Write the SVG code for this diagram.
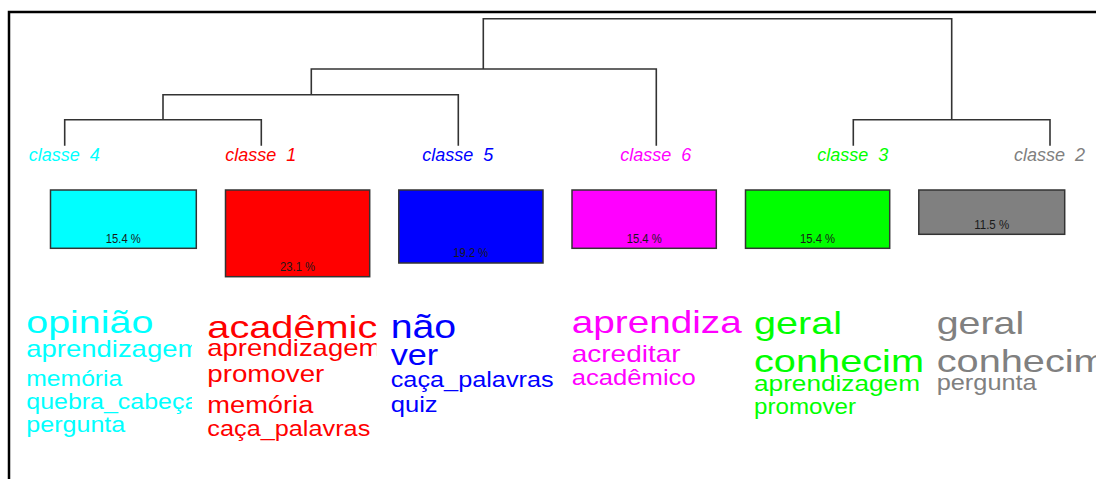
<svg xmlns="http://www.w3.org/2000/svg" width="1096" height="479" viewBox="0 0 1096 479">
<style>
.frame{fill:none;stroke:#000;stroke-width:2.5}
.dend{fill:none;stroke:#333;stroke-width:1.6}
.lbl{font-family:"Liberation Sans",Arial,sans-serif;font-style:italic;font-size:18px;text-anchor:middle;word-spacing:5px}
.box{stroke:#333;stroke-width:1.5}
.pct{font-family:"Liberation Sans",Arial,sans-serif;font-size:12px;text-anchor:middle;fill:#1a1a1a}
.w{font-family:"Liberation Sans",Arial,sans-serif}
.c4{fill:#00FFFF}.c1{fill:#FF0000}.c5{fill:#0000FF}.c6{fill:#FF00FF}.c3{fill:#00FF00}.c2{fill:#808080}
</style>
<defs>
<clipPath id="clip4" clipPathUnits="userSpaceOnUse"><rect x="20" y="290" width="172" height="160"/></clipPath>
<clipPath id="clip1" clipPathUnits="userSpaceOnUse"><rect x="200" y="290" width="176.5" height="160"/></clipPath>
</defs>
<rect width="1096" height="479" fill="#fff"/>
<path class="frame" d="M9,479 V12 H1096"/>
<g id="connectors">
<path class="dend" d="M64.7,145.7 V119.7 H261.3 V145.7"/>
<path class="dend" d="M163,119.7 V94.7 H458.3 V145.7"/>
<path class="dend" d="M311.3,94.7 V69 H656.3 V145.7"/>
<path class="dend" d="M853.3,145.7 V119.7 H1050 V145.7"/>
<path class="dend" d="M483.3,69 V18.7 H951.7 V119.7"/>
</g>
<g id="classe-4">
<text class="lbl c4" x="64.2" y="160.7">classe 4</text>
<rect class="box c4" x="50.5" y="190" width="145.8" height="58.3"/>
<text class="pct" x="123.3" y="242.8" textLength="35" lengthAdjust="spacingAndGlyphs">15.4 %</text>
<g clip-path="url(#clip4)">
<text class="w c4" x="26.3" y="332.5" font-size="32" textLength="127" lengthAdjust="spacingAndGlyphs">opinião</text>
<text class="w c4" x="26.3" y="356.5" font-size="24" textLength="174" lengthAdjust="spacingAndGlyphs">aprendizagem</text>
<text class="w c4" x="26.3" y="385.5" font-size="21.5" textLength="96" lengthAdjust="spacingAndGlyphs">memória</text>
<text class="w c4" x="26.3" y="408.5" font-size="21.5" textLength="172" lengthAdjust="spacingAndGlyphs">quebra_cabeça</text>
<text class="w c4" x="26.3" y="432.3" font-size="21.5" textLength="99" lengthAdjust="spacingAndGlyphs">pergunta</text>
</g>
</g>
<g id="classe-1">
<text class="lbl c1" x="260.8" y="160.7">classe 1</text>
<rect class="box c1" x="225.5" y="190" width="144.2" height="86.7"/>
<text class="pct" x="297.5" y="271" textLength="35" lengthAdjust="spacingAndGlyphs">23.1 %</text>
<g clip-path="url(#clip1)">
<text class="w c1" x="207.3" y="337.5" font-size="32" textLength="170" lengthAdjust="spacingAndGlyphs">acadêmic</text>
<text class="w c1" x="207.3" y="356" font-size="24" textLength="174" lengthAdjust="spacingAndGlyphs">aprendizagem</text>
<text class="w c1" x="207.3" y="382" font-size="24" textLength="117" lengthAdjust="spacingAndGlyphs">promover</text>
<text class="w c1" x="207.3" y="413.3" font-size="23" textLength="106" lengthAdjust="spacingAndGlyphs">memória</text>
<text class="w c1" x="207.3" y="436" font-size="22" textLength="163" lengthAdjust="spacingAndGlyphs">caça_palavras</text>
</g>
</g>
<g id="classe-5">
<text class="lbl c5" x="457.8" y="160.7">classe 5</text>
<rect class="box c5" x="398.8" y="190" width="144.2" height="73"/>
<text class="pct" x="470.8" y="257.3" textLength="35" lengthAdjust="spacingAndGlyphs">19.2 %</text>
<text class="w c5" x="390.7" y="337.7" font-size="33" textLength="65.5" lengthAdjust="spacingAndGlyphs">não</text>
<text class="w c5" x="390.7" y="365" font-size="29" textLength="47.5" lengthAdjust="spacingAndGlyphs">ver</text>
<text class="w c5" x="390.7" y="387.3" font-size="22" textLength="163" lengthAdjust="spacingAndGlyphs">caça_palavras</text>
<text class="w c5" x="390.7" y="411.7" font-size="22" textLength="47" lengthAdjust="spacingAndGlyphs">quiz</text>
</g>
<g id="classe-6">
<text class="lbl c6" x="655.8" y="160.7">classe 6</text>
<rect class="box c6" x="572" y="190" width="144.3" height="58.3"/>
<text class="pct" x="644.2" y="242.8" textLength="35" lengthAdjust="spacingAndGlyphs">15.4 %</text>
<text class="w c6" x="571.7" y="333.3" font-size="32" textLength="170" lengthAdjust="spacingAndGlyphs">aprendiza</text>
<text class="w c6" x="571.7" y="361.7" font-size="24" textLength="109" lengthAdjust="spacingAndGlyphs">acreditar</text>
<text class="w c6" x="571.7" y="385" font-size="22" textLength="124" lengthAdjust="spacingAndGlyphs">acadêmico</text>
</g>
<g id="classe-3">
<text class="lbl c3" x="852.8" y="160.7">classe 3</text>
<rect class="box c3" x="745.5" y="190" width="144.2" height="58.3"/>
<text class="pct" x="817.5" y="242.8" textLength="35" lengthAdjust="spacingAndGlyphs">15.4 %</text>
<text class="w c3" x="754" y="333.5" font-size="32" textLength="88" lengthAdjust="spacingAndGlyphs">geral</text>
<text class="w c3" x="754" y="371.5" font-size="32" textLength="170" lengthAdjust="spacingAndGlyphs">conhecim</text>
<text class="w c3" x="754" y="390.5" font-size="22" textLength="166" lengthAdjust="spacingAndGlyphs">aprendizagem</text>
<text class="w c3" x="754" y="413.5" font-size="21.5" textLength="102" lengthAdjust="spacingAndGlyphs">promover</text>
</g>
<g id="classe-2">
<text class="lbl c2" x="1049.5" y="160.7">classe 2</text>
<rect class="box c2" x="918.8" y="190" width="145.9" height="44.3"/>
<text class="pct" x="991.7" y="228.8" textLength="35" lengthAdjust="spacingAndGlyphs">11.5 %</text>
<text class="w c2" x="936.7" y="334" font-size="32" textLength="87.5" lengthAdjust="spacingAndGlyphs">geral</text>
<text class="w c2" x="936.7" y="372" font-size="32" textLength="170" lengthAdjust="spacingAndGlyphs">conhecim</text>
<text class="w c2" x="936.7" y="390" font-size="22" textLength="100" lengthAdjust="spacingAndGlyphs">pergunta</text>
</g>
</svg>
